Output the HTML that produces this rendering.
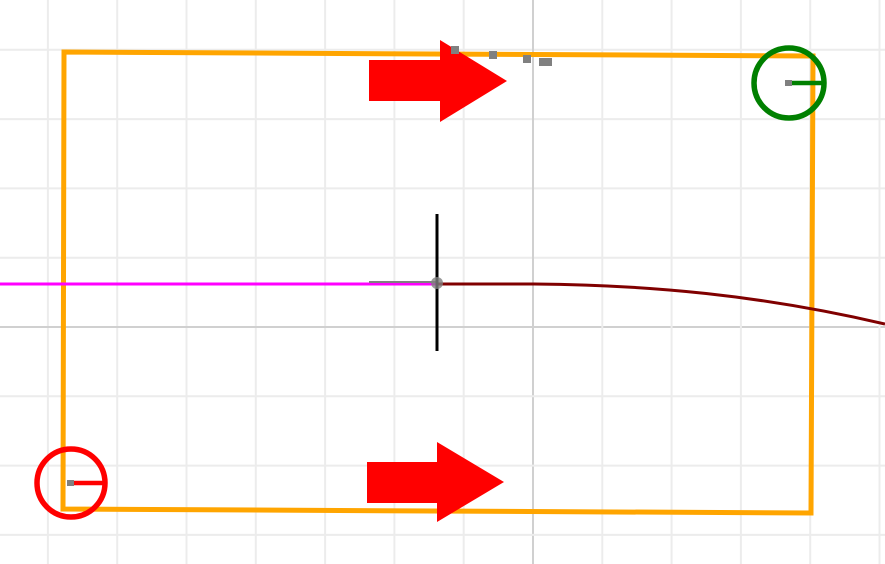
<!DOCTYPE html>
<html><head><meta charset="utf-8"><style>html,body{margin:0;padding:0;background:#fff;overflow:hidden}svg{display:block}</style></head>
<body>
<svg id="c" width="885" height="564" xmlns="http://www.w3.org/2000/svg">
<g id="grid"></g>
<polygon points="64,52 813,56 811,513 63,509" fill="none" stroke="#FFA500" stroke-width="5"/>
<polygon points="369,60 440,60 440,40 507,81 440,122 440,101 369,101" fill="#FF0000"/>
<polygon points="367,462 437,462 437,442 504,482 437,522 437,503 367,503" fill="#FF0000"/>
<g fill="#808080">
<rect x="451" y="46" width="8" height="8"/><rect x="489" y="51" width="8" height="8"/><rect x="523" y="55" width="8" height="8"/><rect x="539" y="58" width="13" height="8"/>
</g>
<line x1="0" y1="284" x2="437" y2="284" stroke="#FF00FF" stroke-width="3"/>
<line x1="369" y1="282" x2="437" y2="282" stroke="#808080" stroke-width="2"/>
<path d="M437,284 L534,284 C650,285 760,295 885,324" fill="none" stroke="#800000" stroke-width="3"/>
<line x1="437" y1="214" x2="437" y2="351" stroke="#000" stroke-width="3"/>
<circle cx="437" cy="283" r="6" fill="#808080" opacity="0.8"/>
<g>
<circle cx="789" cy="83" r="35" fill="none" stroke="#008000" stroke-width="5.5"/>
<line x1="790" y1="83" x2="823" y2="83" stroke="#008000" stroke-width="4.5"/>
<rect x="785" y="80" width="7" height="6" fill="#808080"/>
</g>
<g>
<circle cx="71" cy="483" r="34" fill="none" stroke="#FF0000" stroke-width="5.5"/>
<line x1="72" y1="483" x2="107" y2="483" stroke="#FF0000" stroke-width="4.5"/>
<rect x="67" y="480" width="7" height="6" fill="#808080"/>
</g>
</svg>
<script>
const gridSpacing = [69.3];
const g = document.getElementById('grid');
const ns = 'http://www.w3.org/2000/svg';
const ox = 533, oy = 327, s = gridSpacing[0];
for (let k = -8; k <= 8; k++) {
  const x = ox + k * s;
  if (x >= 0 && x <= 885) {
    const l = document.createElementNS(ns, 'line');
    
    
    l.setAttribute('x1', x); l.setAttribute('x2', x); l.setAttribute('y1', 0); l.setAttribute('y2', 564);
    l.setAttribute('stroke', k === 0 ? '#d0d0d0' : '#ececec'); l.setAttribute('stroke-width', 2);
    g.appendChild(l);
  }
  const y = oy + k * s;
  if (y >= 0 && y <= 564) {
    const l = document.createElementNS(ns, 'line');
    
    
    l.setAttribute('y1', y); l.setAttribute('y2', y); l.setAttribute('x1', 0); l.setAttribute('x2', 885);
    l.setAttribute('stroke', k === 0 ? '#d0d0d0' : '#ececec'); l.setAttribute('stroke-width', 2);
    g.appendChild(l);
  }
}
</script>
</body></html>
